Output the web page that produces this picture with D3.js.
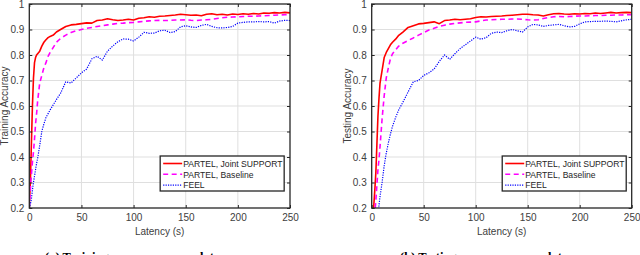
<!DOCTYPE html>
<html>
<head>
<meta charset="utf-8">
<script src="https://cdn.jsdelivr.net/npm/d3@7"></script>
<style>
  body { margin: 0; background: #fff; }
  svg { display: block; font-family: "Liberation Sans", Arial, sans-serif; }
</style>
</head>
<body>
<svg id="chart" width="640" height="255"></svg>
<script>
// latency grid (s), shared by every series
const latency = [0,1,2,3,4,5,6,7,8,10,12,14,16,18,20,23,26,30,35,40,45,50,55,60,65,70,75,80,85,90,95,100,105,110,115,120,125,130,135,140,145,150,155,160,165,170,175,180,185,190,195,200,205,210,215,220,225,230,235,240,245,250];

// (a) training accuracy
const trainJoint = [0.21,0.30,0.45,0.60,0.71,0.77,0.79,0.80,0.805,0.815,0.835,0.85,0.86,0.868,0.873,0.878,0.89,0.90,0.912,0.918,0.92,0.923,0.926,0.925,0.935,0.937,0.942,0.938,0.935,0.937,0.94,0.937,0.944,0.946,0.95,0.948,0.952,0.953,0.955,0.957,0.96,0.958,0.956,0.957,0.954,0.96,0.962,0.958,0.96,0.957,0.961,0.959,0.962,0.96,0.963,0.961,0.965,0.964,0.966,0.965,0.967,0.965];
const trainBase = [0.2,0.27,0.33,0.38,0.42,0.47,0.53,0.57,0.62,0.69,0.72,0.75,0.77,0.795,0.81,0.83,0.85,0.865,0.878,0.888,0.895,0.9,0.905,0.908,0.912,0.915,0.918,0.921,0.924,0.925,0.927,0.928,0.93,0.932,0.934,0.935,0.936,0.935,0.936,0.937,0.937,0.938,0.936,0.935,0.937,0.938,0.94,0.943,0.946,0.948,0.949,0.95,0.951,0.952,0.952,0.953,0.954,0.955,0.956,0.957,0.958,0.959];
const trainFeel = [0.2,0.215,0.235,0.27,0.3,0.325,0.35,0.375,0.395,0.445,0.5,0.53,0.555,0.57,0.585,0.605,0.625,0.65,0.695,0.69,0.71,0.73,0.745,0.785,0.795,0.78,0.815,0.835,0.852,0.863,0.862,0.855,0.87,0.889,0.885,0.886,0.895,0.897,0.888,0.892,0.91,0.915,0.91,0.908,0.916,0.92,0.912,0.907,0.906,0.908,0.912,0.925,0.928,0.93,0.93,0.931,0.93,0.931,0.925,0.933,0.936,0.935];

// (b) testing accuracy
const testJoint = [0.1,0.15,0.21,0.27,0.34,0.45,0.56,0.63,0.69,0.74,0.79,0.81,0.825,0.84,0.85,0.862,0.877,0.89,0.908,0.915,0.922,0.924,0.927,0.93,0.923,0.935,0.937,0.94,0.938,0.94,0.942,0.947,0.95,0.949,0.951,0.952,0.953,0.955,0.956,0.958,0.96,0.96,0.958,0.957,0.953,0.958,0.962,0.963,0.961,0.96,0.962,0.961,0.963,0.962,0.965,0.963,0.965,0.967,0.965,0.966,0.967,0.966];
const testBase = [0.0,0.06,0.12,0.18,0.23,0.29,0.35,0.39,0.44,0.55,0.64,0.71,0.75,0.785,0.805,0.82,0.835,0.846,0.857,0.867,0.878,0.888,0.898,0.905,0.912,0.917,0.921,0.924,0.926,0.928,0.929,0.93,0.934,0.937,0.938,0.939,0.94,0.94,0.941,0.941,0.94,0.938,0.937,0.938,0.943,0.947,0.95,0.951,0.95,0.951,0.952,0.953,0.953,0.954,0.955,0.955,0.956,0.956,0.957,0.957,0.958,0.958];
const testFeel = [0.0,0.03,0.07,0.1,0.13,0.16,0.185,0.21,0.245,0.3,0.365,0.415,0.455,0.49,0.52,0.555,0.585,0.615,0.655,0.695,0.7,0.72,0.73,0.745,0.775,0.8,0.783,0.805,0.825,0.84,0.855,0.87,0.862,0.868,0.885,0.89,0.888,0.895,0.9,0.895,0.89,0.91,0.92,0.918,0.912,0.916,0.918,0.92,0.915,0.91,0.912,0.922,0.93,0.931,0.932,0.932,0.933,0.932,0.93,0.934,0.938,0.94];

const seriesNames = ["PARTEL, Joint SUPPORT", "PARTEL, Baseline", "FEEL"];
const xTicks = [0, 50, 100, 150, 200, 250];
const yTicks = [0.2, 0.3, 0.4, 0.5, 0.6, 0.7, 0.8, 0.9, 1];

const styles = [
  {color: "#ff0000", width: 1.6, dash: null},
  {color: "#ff00ff", width: 1.6, dash: "5,3.5"},
  {color: "#0000ff", width: 1.2, dash: "1.2,1.2"}
];

const svg = d3.select("#chart");

function drawPanel(id, left, right, yLabel, caption, captionX, data) {
  const top = 4, bottom = 208;
  const x = d3.scaleLinear().domain([0, 250]).range([left, right]);
  const y = d3.scaleLinear().domain([0.2, 1]).range([bottom, top]);
  const g = svg.append("g");

  // grid
  g.append("g").selectAll("line").data(xTicks.slice(1, -1)).join("line")
    .attr("x1", d => x(d)).attr("x2", d => x(d)).attr("y1", top).attr("y2", bottom)
    .attr("stroke", "#dfdfdf").attr("stroke-width", 1);
  g.append("g").selectAll("line").data(yTicks.slice(1, -1)).join("line")
    .attr("y1", d => y(d)).attr("y2", d => y(d)).attr("x1", left).attr("x2", right)
    .attr("stroke", "#dfdfdf").attr("stroke-width", 1);

  // curves
  g.append("clipPath").attr("id", id).append("rect")
    .attr("x", left).attr("y", top).attr("width", right - left).attr("height", bottom - top);
  const line = d3.line().x((d, i) => x(latency[i])).y(d => y(d));
  data.forEach((s, k) => {
    g.append("path").datum(s)
      .attr("clip-path", `url(#${id})`)
      .attr("fill", "none")
      .attr("stroke", styles[k].color)
      .attr("stroke-width", styles[k].width)
      .attr("stroke-dasharray", styles[k].dash)
      .attr("stroke-linejoin", "round")
      .attr("d", line);
  });

  // axes (ticks inside, on all four sides)
  const fmt = d => d === 1 ? "1" : d3.format(".1f")(d);
  const axB = g.append("g").attr("transform", `translate(0,${bottom})`)
    .call(d3.axisBottom(x).tickValues(xTicks).tickSizeInner(-3).tickSizeOuter(0).tickPadding(6));
  const axT = g.append("g").attr("transform", `translate(0,${top})`)
    .call(d3.axisTop(x).tickValues(xTicks).tickSizeInner(-3).tickSizeOuter(0).tickFormat(""));
  const axL = g.append("g").attr("transform", `translate(${left},0)`)
    .call(d3.axisLeft(y).tickValues(yTicks).tickSizeInner(-3).tickSizeOuter(0).tickPadding(5).tickFormat(fmt));
  const axR = g.append("g").attr("transform", `translate(${right},0)`)
    .call(d3.axisRight(y).tickValues(yTicks).tickSizeInner(-3).tickSizeOuter(0).tickFormat(""));
  [axB, axT, axL, axR].forEach(a => {
    a.select(".domain").remove();
    a.selectAll("line").attr("stroke", "#262626").attr("stroke-width", 1);
    a.selectAll("text").attr("fill", "#404040").style("font-size", "10px")
      .style("font-family", '"Liberation Sans", Arial, sans-serif');
  });

  g.append("rect").attr("x", left).attr("y", top)
    .attr("width", right - left).attr("height", bottom - top)
    .attr("fill", "none").attr("stroke", "#262626").attr("stroke-width", 1.3);

  // axis titles
  g.append("text").attr("x", (left + right) / 2).attr("y", 235)
    .attr("text-anchor", "middle").attr("fill", "#404040").style("font-size", "10px")
    .text("Latency (s)");
  g.append("text").attr("transform", `translate(${left - 21},${(top + bottom) / 2}) rotate(-90)`)
    .attr("text-anchor", "middle").attr("fill", "#404040").style("font-size", "10px")
    .text(yLabel);

  // legend
  const lx = x(125.5), ly = 156, lw = 124, lh = 35;
  const leg = g.append("g");
  leg.append("rect").attr("x", lx).attr("y", ly).attr("width", lw).attr("height", lh)
    .attr("fill", "#fff").attr("stroke", "#262626").attr("stroke-width", 1.3);
  seriesNames.forEach((name, k) => {
    const cy = ly + 7.5 + k * 10.8;
    leg.append("line").attr("x1", lx + 3).attr("x2", lx + 22).attr("y1", cy).attr("y2", cy)
      .attr("stroke", styles[k].color).attr("stroke-width", styles[k].width)
      .attr("stroke-dasharray", styles[k].dash);
    leg.append("text").attr("x", lx + 23).attr("y", cy + 3.2)
      .attr("fill", "#262626").style("font-size", "8.6px").text(name);
  });

  // sub-caption (its lower part falls below the picture edge, as in the source)
  g.append("text").attr("x", captionX).attr("y", 261)
    .attr("fill", "#000").style("font-family", '"Liberation Serif", serif')
    .style("font-size", "12.5px").style("font-weight", "bold").text(caption);
}

drawPanel("clipA", 29.3, 290, "Training Accuracy", "(a) Training accuracy versus latency", 45,
  [trainJoint, trainBase, trainFeel]);
drawPanel("clipB", 371.7, 631.7, "Testing Accuracy", "(b) Testing accuracy versus latency", 400,
  [testJoint, testBase, testFeel]);
</script>
</body>
</html>
